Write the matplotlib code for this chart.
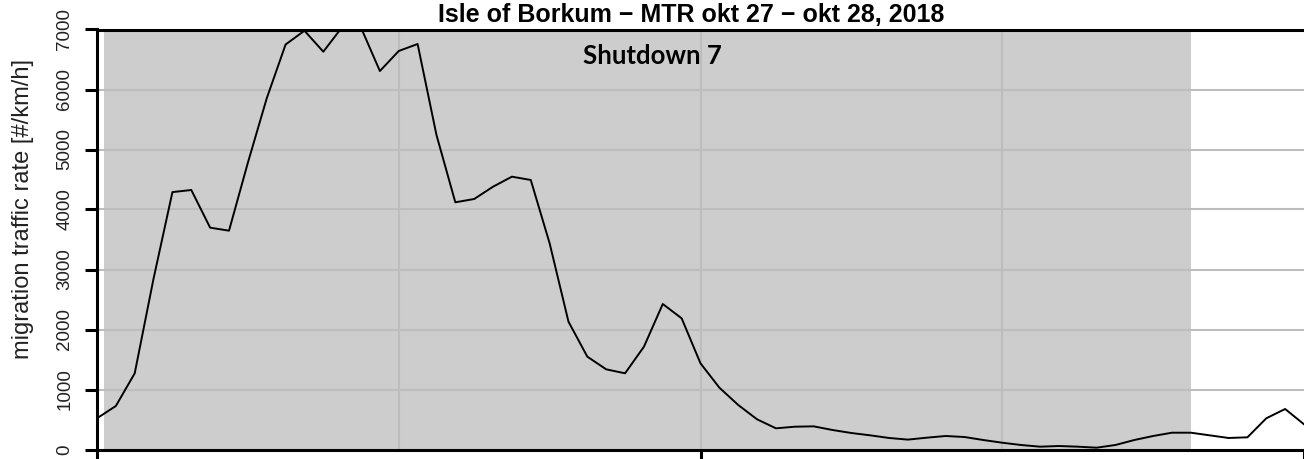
import matplotlib
matplotlib.use("Agg")
import matplotlib.pyplot as plt
import numpy as np

# ---- data ----
mtr_values = [520, 725, 1270, 2850, 4290, 4325, 3697, 3647, 4780, 5853,
              6750, 6980, 6630, 7040, 7030, 6308, 6642, 6758, 5242, 4120,
              4175, 4380, 4547, 4492, 3437, 2130, 1547, 1336, 1270, 1713,
              2425, 2186, 1436, 1031, 742, 503, 353, 380, 386, 325,
              275, 236, 192, 165, 197, 225, 208, 158, 113, 75,
              47, 58, 47, 30, 75, 158, 225, 280, 280, 236,
              192, 203, 520, 675, 420]
time_index = list(range(len(mtr_values)))
shutdown_start = 0.37
shutdown_end = 58.03
shutdown_label = "Shutdown 7"
title_text = "Isle of Borkum \u2212 MTR okt 27 \u2212 okt 28, 2018"
ylabel_text = "migration traffic rate [#/km/h]"
yticks = [0, 1000, 2000, 3000, 4000, 5000, 6000, 7000]
xticks = [0, 32, 64]
xgrid = [16, 32, 48]

W, H = 1304, 459
fig = plt.figure(figsize=(W / 100, H / 100), dpi=100)
L, R, B, T = 97, 1304, 449.5, 29.5
ax = fig.add_axes([L / W, (H - B) / H, (R - L) / W, (B - T) / H])

ax.axvspan(shutdown_start, shutdown_end, color="#cdcdcd", zorder=0.2, lw=0)
for v in yticks[1:-1]:
    ax.axhline(v, color="#bdbdbd", lw=1.5, zorder=0.5)
for g in xgrid:
    ax.axvline(g, color="#bdbdbd", lw=1.5, zorder=0.5)

ax.plot(time_index, mtr_values, color="black", lw=1.4, zorder=3)

ax.set_xlim(0, (R - L) / ((702 - 97) / 32))
ax.set_ylim(0, 7000)
ax.set_yticks(yticks)
ax.set_yticklabels([str(v) for v in yticks], rotation=90, va="center",
                   fontsize=13.5, color="#222222", family="Liberation Sans")
ax.set_xticks(xticks)
ax.set_xticklabels(["" for _ in xticks])
ax.tick_params(axis="y", direction="out", length=9, width=2.2, pad=8)
ax.tick_params(axis="x", direction="out", length=9, width=2.2)

for s in ["left", "bottom", "top"]:
    ax.spines[s].set_linewidth(2.2)
    ax.spines[s].set_color("black")
ax.spines["right"].set_visible(False)

fig.text(23 / W, 1 - 209 / H, ylabel_text, rotation=90, ha="center", va="center",
         fontsize=17, family="Liberation Sans", color="#222222")
fig.text(691 / W, 1 - 15.5 / H, title_text, ha="center", va="center",
         fontsize=18, fontweight="bold", family="Liberation Sans")
fig.text(652 / W, 1 - 56 / H, shutdown_label, ha="center", va="center",
         fontsize=18.5, fontweight="bold", family="Lato")

fig.savefig("out.png", dpi=100)
